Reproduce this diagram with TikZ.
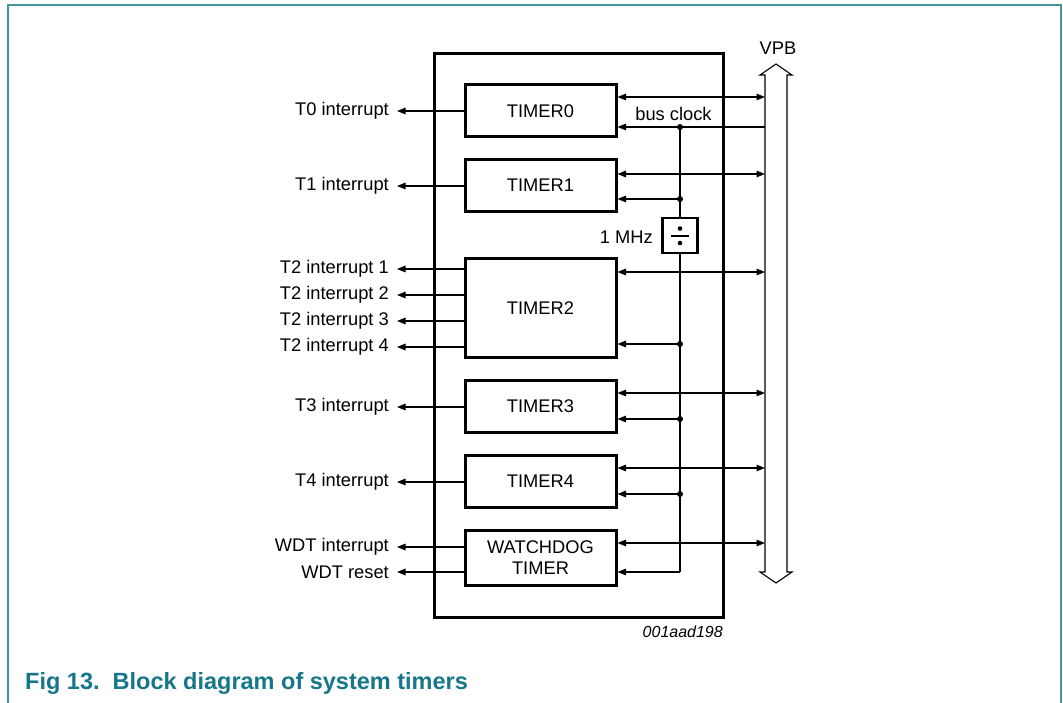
\documentclass[tikz,border=0pt]{standalone}
\usepackage{fontspec}
\setmainfont{Liberation Sans}
\usetikzlibrary{arrows.meta}
\definecolor{framec}{RGB}{70,150,162}
\definecolor{capc}{RGB}{22,118,138}
\tikzset{
  tbox/.style={draw, line width=3pt, minimum width=151pt, minimum height=52pt, inner sep=0pt, font=\fontsize{18.3}{20}\selectfont, align=center},
  lbl/.style={font=\fontsize{18.3}{20}\selectfont, inner sep=0pt},
  conn/.style={line width=1.4pt},
  tip/.style={-{Triangle[length=8.5pt,width=6.5pt]}},
  bidir/.style={conn,{Triangle[length=8.5pt,width=6.5pt]}-{Triangle[length=8.5pt,width=6.5pt]}},
  dot/.style={circle, fill, inner sep=0pt, minimum size=6pt},
}
\begin{document}
\begin{tikzpicture}[x=1pt,y=-1pt]
\useasboundingbox (0,0) rectangle (1063,703);
% frame
\draw[framec, line width=1.6pt] (8,710) -- (8,5) -- (1061,5) -- (1061,710);
% outer box
\node[draw, line width=3pt, minimum width=289pt, minimum height=563pt, inner sep=0pt] (outer) at (578.5,335.5) {};
% timers
\node[tbox] (t0) at (540.5,111) {TIMER0};
\node[tbox] (t1) at (540.5,185.5) {TIMER1};
\node[tbox, minimum height=98pt] (t2) at (540.5,308) {TIMER2};
\node[tbox] (t3) at (540.5,406) {TIMER3};
\node[tbox] (t4) at (540.5,481) {TIMER4};
\node[tbox, minimum height=55pt, font=\fontsize{18.3}{21}\selectfont] (wd) at (540.5,557.5) {WATCHDOG\\TIMER};
% divider
\node[draw, line width=2.5pt, minimum size=35pt, inner sep=0pt] (div) at (680,235.5) {};
\draw[line width=1.4pt] (671,236) -- (689,236);
\fill (680,228.5) circle (2.3pt);
\fill (680,243) circle (2.3pt);
\node[lbl, anchor=east] (mhz) at (653,237) {1 MHz};
% VPB bus
\coordinate (busL) at (765,0);
\coordinate (busR) at (787,0);
\draw[line width=1.1pt] (765,75) -- (765,572) -- (760,572) -- (776,583) -- (792,572) -- (787,572) -- (787,75) -- (792,75) -- (776,64) -- (760,75) -- cycle;
\node[lbl] (vpb) at (778,48) {VPB};
% bidirectional bus connections
\draw[bidir] (t0.east |- 0,97) -- (busL |- 0,97);
\draw[bidir] (t1.east |- 0,174) -- (busL |- 0,174);
\draw[bidir] (t2.east |- 0,272) -- (busL |- 0,272);
\draw[bidir] (t3.east |- 0,393) -- (busL |- 0,393);
\draw[bidir] (t4.east |- 0,468) -- (busL |- 0,468);
\draw[bidir] (wd.east |- 0,543) -- (busL |- 0,543);
% bus clock
\draw[conn, tip] (busL |- 0,127) -- (t0.east |- 0,127);
\node[lbl] (bclk) at (673.5,114) {bus clock};
\node[dot] (d0) at (680,127) {};
\node[dot] (d1) at (680,199) {};
\node[dot] (d2) at (680,344) {};
\node[dot] (d3) at (680,419) {};
\node[dot] (d4) at (680,494) {};
\coordinate (d5) at (680,572);
\draw[conn] (d0.center) -- (div.north);
\draw[conn] (div.south) -- (d5);
\draw[conn, tip] (d1.center) -- (t1.east |- d1);
\draw[conn, tip] (d2.center) -- (t2.east |- d2);
\draw[conn, tip] (d3.center) -- (t3.east |- d3);
\draw[conn, tip] (d4.center) -- (t4.east |- d4);
\draw[conn, tip] (d5) -- (wd.east |- d5);
% interrupts
\foreach \n/\b/\y/\t in {i0/t0/111/T0 interrupt, i1/t1/186/T1 interrupt, i21/t2/269/T2 interrupt 1, i22/t2/295/T2 interrupt 2, i23/t2/321/T2 interrupt 3, i24/t2/347/T2 interrupt 4, i3/t3/407/T3 interrupt, i4/t4/482/T4 interrupt, iw1/wd/547/WDT interrupt, iw2/wd/572/WDT reset} {
  \node[lbl, anchor=east] (\n) at (389,\y) {\t};
  \coordinate (\n e) at (397,\y);
  \draw[conn, tip] (\b.west |- 0,\y) -- (\n e);
}
\node[lbl, anchor=east, font=\itshape\fontsize{16}{18}\selectfont] (code) at (723,632) {001aad198};
\node[anchor=west, inner sep=0pt, text=capc, font=\bfseries\fontsize{23.5}{27}\selectfont] (cap) at (25,683) {Fig 13.\ \ Block diagram of system timers};
\end{tikzpicture}
\end{document}
